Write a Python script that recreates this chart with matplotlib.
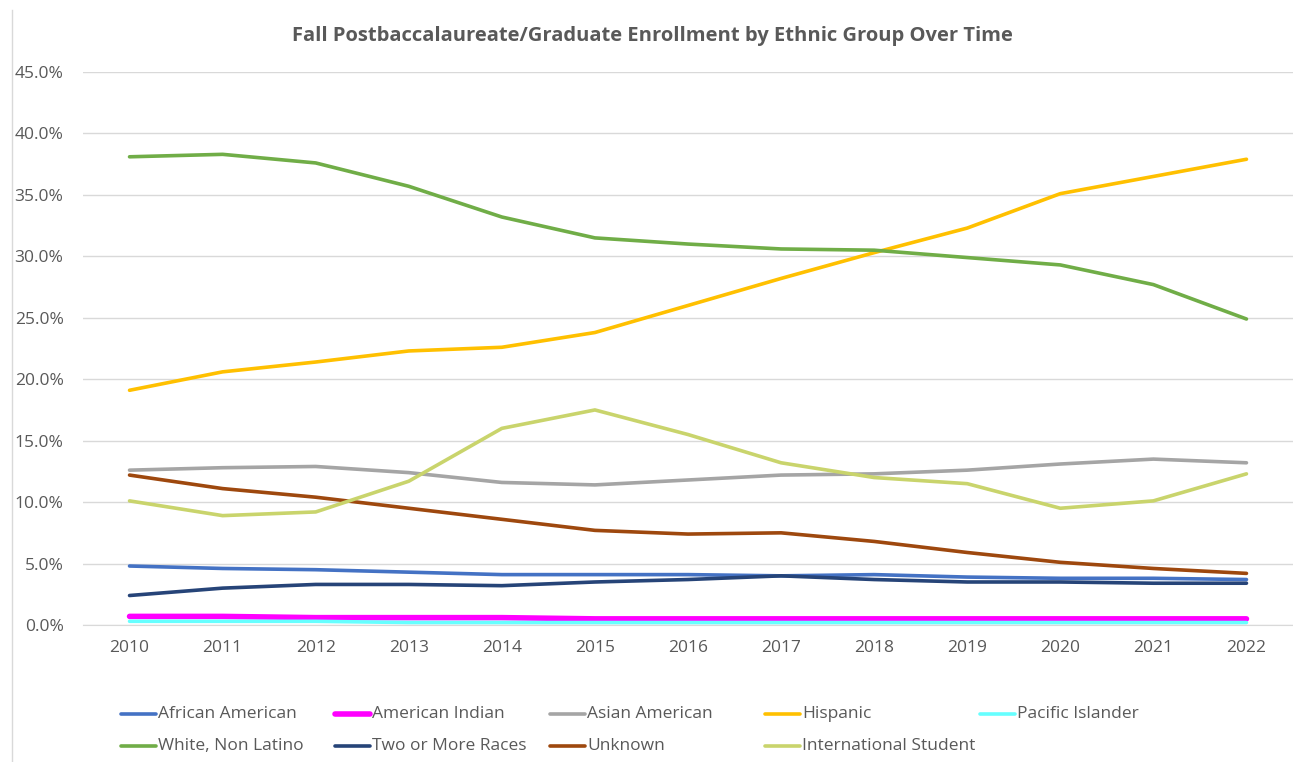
import matplotlib.pyplot as plt
from matplotlib.lines import Line2D
from matplotlib.ticker import FuncFormatter

years = list(range(2010, 2023))

african_american = [4.8, 4.6, 4.5, 4.3, 4.1, 4.1, 4.1, 4.0, 4.1, 3.9, 3.8, 3.8, 3.7]
american_indian = [0.7, 0.7, 0.6, 0.6, 0.6, 0.5, 0.5, 0.5, 0.5, 0.5, 0.5, 0.5, 0.5]
asian_american = [12.6, 12.8, 12.9, 12.4, 11.6, 11.4, 11.8, 12.2, 12.3, 12.6, 13.1, 13.5, 13.2]
hispanic = [19.1, 20.6, 21.4, 22.3, 22.6, 23.8, 26.0, 28.2, 30.3, 32.3, 35.1, 36.5, 37.9]
pacific_islander = [0.3, 0.3, 0.3, 0.2, 0.2, 0.2, 0.2, 0.2, 0.2, 0.2, 0.2, 0.2, 0.2]
white = [38.1, 38.3, 37.6, 35.7, 33.2, 31.5, 31.0, 30.6, 30.5, 29.9, 29.3, 27.7, 24.9]
two_or_more = [2.4, 3.0, 3.3, 3.3, 3.2, 3.5, 3.7, 4.0, 3.7, 3.5, 3.5, 3.4, 3.4]
unknown = [12.2, 11.1, 10.4, 9.5, 8.6, 7.7, 7.4, 7.5, 6.8, 5.9, 5.1, 4.6, 4.2]
international = [10.1, 8.9, 9.2, 11.7, 16.0, 17.5, 15.5, 13.2, 12.0, 11.5, 9.5, 10.1, 12.3]

series = [
    ("African American", african_american, "#4472C4", 2.6),
    ("American Indian", american_indian, "#FF00FF", 4.0),
    ("Asian American", asian_american, "#A5A5A5", 2.6),
    ("Hispanic", hispanic, "#FFC000", 2.6),
    ("Pacific Islander", pacific_islander, "#66FFFF", 2.6),
    ("White, Non Latino", white, "#70AD47", 2.6),
    ("Two or More Races", two_or_more, "#264478", 2.6),
    ("Unknown", unknown, "#9E480E", 2.6),
    ("International Student", international, "#C9D46C", 2.6),
]

plt.rcParams['font.family'] = ['Open Sans', 'DejaVu Sans']

W, H = 1293, 762
fig = plt.figure(figsize=(W / 100, H / 100), dpi=100)
ax = fig.add_axes([83 / W, 1 - 625 / H, (1293 - 83) / W, (625 - 72) / H])

for name, vals, color, lw in series:
    ax.plot(years, vals, color=color, linewidth=lw, solid_capstyle='round', label=name)

ax.set_xlim(2009.5, 2022.5)
ax.set_ylim(0, 45)
ax.set_yticks([0, 5, 10, 15, 20, 25, 30, 35, 40, 45])
ax.yaxis.set_major_formatter(FuncFormatter(lambda v, p: f"{v:.1f}%"))
ax.set_xticks(years)
ax.grid(axis='y', color='#D9D9D9', linewidth=1)
ax.set_axisbelow(True)
for s in ['top', 'right', 'left']:
    ax.spines[s].set_visible(False)
ax.spines['bottom'].set_color('#D9D9D9')
ax.tick_params(axis='both', length=0, labelsize=12.5, colors='#595959')
ax.tick_params(axis='y', pad=14)
ax.tick_params(axis='x', pad=11)

fig.text(652 / W, 1 - 36 / H, "Fall Postbaccalaureate/Graduate Enrollment by Ethnic Group Over Time",
         ha='center', va='center', fontsize=14.5, fontweight='bold', color='#595959')

# left border line
fig.add_artist(Line2D([12 / W, 12 / W], [0, 1 - 10 / H], color='#D9D9D9', linewidth=1))

# legend, fixed column layout
col_x = [121, 335, 550, 765, 980]
row_y = [714, 746]
for i, (name, vals, color, lw) in enumerate(series):
    x0 = col_x[i % 5]
    y0 = row_y[i // 5]
    fig.add_artist(Line2D([x0 / W, (x0 + 35) / W], [1 - y0 / H, 1 - y0 / H],
                          color=color, linewidth=lw, solid_capstyle='round'))
    fig.text((x0 + 37) / W, 1 - y0 / H, name, ha='left', va='center',
             fontsize=12.5, color='#595959')

fig.savefig("out.png", dpi=100)
